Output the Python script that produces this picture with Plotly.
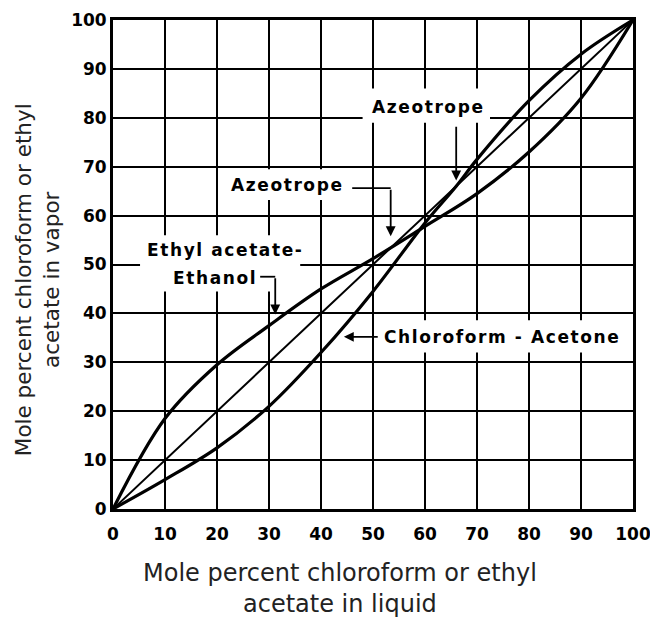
import plotly.graph_objects as go

# Chloroform-Acetone (vapor vs liquid mole percent)
chloro_x = [0, 10, 20, 30, 40, 50, 60, 66, 70, 80, 90, 100]
chloro_y = [0, 6, 12.5, 21, 32, 44.5, 58.5, 66, 71.5, 83.5, 93, 100]

# Ethyl acetate-Ethanol
ethyl_x = [0, 10, 20, 30, 40, 50, 60, 70, 80, 90, 100]
ethyl_y = [0, 18.5, 29.5, 37.5, 45, 51.2, 57.8, 64.5, 73, 84, 100]

# 45-degree reference line
diag_x = [0, 100]
diag_y = [0, 100]

tick_vals = [0, 10, 20, 30, 40, 50, 60, 70, 80, 90, 100]
tick_text = ["0", "10", "20", "30", "40", "50", "60", "70", "80", "90", "100"]

LBL_FONT = dict(family="DejaVu Sans", size=17, color="black", weight="bold")
XTITLE_FONT = dict(family="DejaVu Sans", size=24, color="#222")
YTITLE_FONT = dict(family="DejaVu Sans", size=21.5, color="#222")


def sp(t):
    return '<span style="letter-spacing:1.6px">' + t + '</span>'


fig = go.Figure()
fig.add_trace(go.Scatter(x=diag_x, y=diag_y, mode="lines",
                         line=dict(color="black", width=2), hoverinfo="skip"))
fig.add_trace(go.Scatter(x=chloro_x, y=chloro_y, mode="lines",
                         line=dict(color="black", width=3.2, shape="spline", smoothing=1.0)))
fig.add_trace(go.Scatter(x=ethyl_x, y=ethyl_y, mode="lines",
                         line=dict(color="black", width=3.2, shape="spline", smoothing=1.0)))

# white patches behind labels (above gridlines, below traces)
boxes = [
    (48, 79, 72.5, 86),        # upper Azeotrope
    (21.3, 63.2, 45.6, 69.5),  # lower Azeotrope
    (5.2, 44.5, 36, 56),       # Ethyl acetate-Ethanol
    (51, 32, 98.5, 38.6),      # Chloroform-Acetone
]
for x0, y0, x1, y1 in boxes:
    fig.add_shape(type="rect", x0=x0, y0=y0, x1=x1, y1=y1, xref="x", yref="y",
                  fillcolor="white", line=dict(width=0), layer="between")

# leader horizontal segments
segs = [
    (46, 65.6, 53.4, 65.6),
    (28.3, 47.5, 31.2, 47.5),
]
for x0, y0, x1, y1 in segs:
    fig.add_shape(type="line", x0=x0, y0=y0, x1=x1, y1=y1, xref="x", yref="y",
                  line=dict(color="black", width=1.8))

labels = [
    ("Azeotrope", 60.6, 82.2),
    ("Azeotrope", 33.6, 66.3),
    ("Ethyl acetate-", 21.5, 53.0),
    ("Ethanol", 19.6, 47.2),
    ("Chloroform - Acetone", 74.8, 35.2),
]
for t, x, y in labels:
    fig.add_annotation(x=x, y=y, xref="x", yref="y", text=sp(t), showarrow=False,
                       font=LBL_FONT)

arrows = [
    (66, 67.2, 66, 78.5),
    (53.4, 55.8, 53.4, 65.6),
    (31.2, 39.8, 31.2, 47.5),
    (44.4, 35.2, 51.2, 35.2),
]
for x, y, ax, ay in arrows:
    fig.add_annotation(x=x, y=y, ax=ax, ay=ay, xref="x", yref="y", axref="x", ayref="y",
                       text="", showarrow=True, arrowhead=2, arrowsize=1.1,
                       arrowwidth=1.8, arrowcolor="black", standoff=0)

# axis titles
fig.add_annotation(x=0.4365, y=0, xref="paper", yref="paper", xanchor="center",
                   yanchor="middle", yshift=-79,
                   text="Mole percent chloroform or ethyl<br>acetate in liquid",
                   showarrow=False, font=XTITLE_FONT)
fig.add_annotation(x=0, y=0.468, xref="paper", yref="paper", xanchor="center",
                   yanchor="middle", xshift=-76,
                   text="Mole percent chloroform or ethyl<br>acetate in vapor",
                   showarrow=False, font=YTITLE_FONT, textangle=-90)

axis_common = dict(range=[0, 100], tickvals=tick_vals, ticktext=tick_text,
                   showgrid=True, gridcolor="black", gridwidth=1.8, zeroline=False,
                   showline=True, mirror=True, linecolor="black", linewidth=2.8,
                   ticks="", tickfont=LBL_FONT, fixedrange=True, automargin=False)

fig.update_xaxes(**axis_common, ticklabelstandoff=8)
fig.update_yaxes(**axis_common, ticklabelstandoff=0)

# page body adds an 8px offset, so the figure is sized to fit the 658x620 window
fig.update_layout(width=650, height=612, showlegend=False,
                  margin=dict(l=105, r=25, t=12, b=111, autoexpand=False),
                  plot_bgcolor="white", paper_bgcolor="white")

fig.write_html("out.html")
